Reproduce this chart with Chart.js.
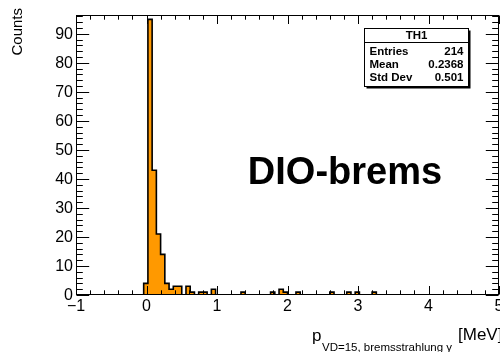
<!DOCTYPE html>
<html>
<head>
<meta charset="utf-8">
<script src="https://cdn.jsdelivr.net/npm/chart.js@4/dist/chart.umd.min.js"></script>
<style>
  html, body { margin: 0; padding: 0; background: #fff; }
  #wrap { width: 500px; height: 352px; position: relative; }
</style>
</head>
<body>
<div id="wrap"><canvas id="hist" width="500" height="352"></canvas></div>
<script>
// binning: 100 bins from -1 to 5 MeV
const binLow = -1;
const binHigh = 5;
const binWidth = 0.06;

// counts per bin
const counts = [
  0, 0, 0, 0, 0, 0, 0, 0, 0, 0,
  0, 0, 0, 0, 0, 0, 4, 95, 43, 21,
  14, 4, 2, 3, 3, 0, 3, 1, 0, 1,
  1, 0, 2, 0, 0, 0, 0, 0, 0, 1,
  0, 0, 0, 0, 0, 0, 1, 0, 2, 1,
  0, 0, 1, 0, 0, 0, 0, 0, 0, 0,
  1, 0, 0, 0, 1, 0, 1, 0, 0, 0,
  1, 0, 0, 0, 0, 0, 0, 0, 0, 0,
  0, 0, 0, 0, 0, 0, 0, 0, 0, 0,
  0, 0, 0, 0, 0, 0, 0, 0, 0, 0
];

const yMax = 96.5;
const xTickValues = [-1, 0, 1, 2, 3, 4, 5];
const xTickLabels = ['\u22121', '0', '1', '2', '3', '4', '5'];
const yTickValues = [0, 10, 20, 30, 40, 50, 60, 70, 80, 90];
const yTickLabels = ['0', '10', '20', '30', '40', '50', '60', '70', '80', '90'];

const statNames = ['Entries', 'Mean', 'Std Dev'];
const statValues = ['214', '0.2368', '0.501'];

const FONT = '"Liberation Sans", Arial, Helvetica, sans-serif';

// step outline: each point sits on a bin's low edge
const points = counts.map((c, i) => ({ x: binLow + i * binWidth, y: c }));
points.push({ x: binHigh, y: counts[counts.length - 1] });

const rootAxes = {
  id: 'rootAxes',
  afterDatasetsDraw(chart) {
    const { ctx, chartArea: a, scales: { x, y } } = chart;
    const L = Math.round(a.left) + 0.5, R = Math.round(a.right) - 0.5;
    const T = Math.round(a.top) + 0.5, B = Math.round(a.bottom) - 0.5;
    ctx.save();
    ctx.strokeStyle = '#000';
    ctx.lineWidth = 1;
    ctx.strokeRect(L, T, R - L, B - T);

    ctx.beginPath();
    // x ticks, minor every 0.2, major on integers
    for (let k = 0; k <= 30; k++) {
      const v = binLow + k * 0.2;
      const px = Math.round(x.getPixelForValue(v)) + 0.5;
      const len = k % 5 === 0 ? 8.5 : 4.2;
      ctx.moveTo(px, B); ctx.lineTo(px, B - len);
      ctx.moveTo(px, T); ctx.lineTo(px, T + len);
    }
    // y ticks, minor every 2, major every 10
    for (let v = 0; v <= yMax; v += 2) {
      const py = Math.round(y.getPixelForValue(v)) + 0.5;
      const len = v % 10 === 0 ? 12.7 : 6.3;
      ctx.moveTo(L, py); ctx.lineTo(L + len, py);
      ctx.moveTo(R, py); ctx.lineTo(R - len, py);
    }
    ctx.stroke();

    // tick labels
    ctx.fillStyle = '#000';
    ctx.font = '16px ' + FONT;
    ctx.textAlign = 'center';
    ctx.textBaseline = 'top';
    xTickValues.forEach((v, i) => {
      ctx.fillText(xTickLabels[i], x.getPixelForValue(v), a.bottom + 4);
    });
    ctx.textAlign = 'right';
    ctx.textBaseline = 'middle';
    yTickValues.forEach((v, i) => {
      ctx.fillText(yTickLabels[i], a.left - 3, y.getPixelForValue(v) + 1);
    });

    // y title, aligned to the top end of the axis
    ctx.save();
    ctx.translate(22, 8);
    ctx.rotate(-Math.PI / 2);
    ctx.textAlign = 'right';
    ctx.textBaseline = 'alphabetic';
    ctx.font = '15px ' + FONT;
    ctx.fillText('Counts', 0, 0);
    ctx.restore();

    // x title with subscript
    ctx.textAlign = 'left';
    ctx.textBaseline = 'alphabetic';
    ctx.font = '17px ' + FONT;
    ctx.fillText('p', 312, 341);
    ctx.font = '11.5px ' + FONT;
    ctx.fillText('VD=15, bremsstrahlung \u03b3', 322, 351);
    ctx.font = '17px ' + FONT;
    ctx.fillText('[MeV]', 458, 340);

    // big label
    ctx.font = 'bold 38px ' + FONT;
    ctx.textAlign = 'center';
    ctx.fillText('DIO-brems', 345, 184);

    // stats box
    const bx = 364.5, by = 28.5, bw = 104, bh = 58;
    ctx.fillStyle = '#000';
    ctx.fillRect(bx + 2, by + 2, bw, bh);
    ctx.fillStyle = '#fff';
    ctx.fillRect(bx, by, bw, bh);
    ctx.strokeRect(bx, by, bw, bh);
    ctx.beginPath();
    ctx.moveTo(bx, by + 14); ctx.lineTo(bx + bw, by + 14);
    ctx.stroke();
    ctx.fillStyle = '#000';
    ctx.font = 'bold 11.5px ' + FONT;
    ctx.textAlign = 'center';
    ctx.textBaseline = 'middle';
    ctx.fillText('TH1', bx + bw / 2, by + 7.5);
    statNames.forEach((n, i) => {
      const ty = by + 23 + i * 13;
      ctx.textAlign = 'left';
      ctx.fillText(n, bx + 5, ty);
      ctx.textAlign = 'right';
      ctx.fillText(statValues[i], bx + bw - 5, ty);
    });
    ctx.restore();
  }
};

new Chart(document.getElementById('hist'), {
  type: 'line',
  data: {
    datasets: [{
      data: points,
      stepped: 'before',
      borderColor: '#000',
      borderWidth: 1.6,
      backgroundColor: '#ff9900',
      fill: 'origin',
      pointRadius: 0,
      tension: 0
    }]
  },
  options: {
    responsive: false,
    animation: false,
    devicePixelRatio: 1,
    layout: { padding: { left: 76, right: 1, top: 15, bottom: 57 } },
    plugins: { legend: { display: false }, tooltip: { enabled: false } },
    scales: {
      x: { type: 'linear', min: binLow, max: binHigh, display: false },
      y: { type: 'linear', min: 0, max: yMax, display: false }
    }
  },
  plugins: [rootAxes]
});
</script>
</body>
</html>
